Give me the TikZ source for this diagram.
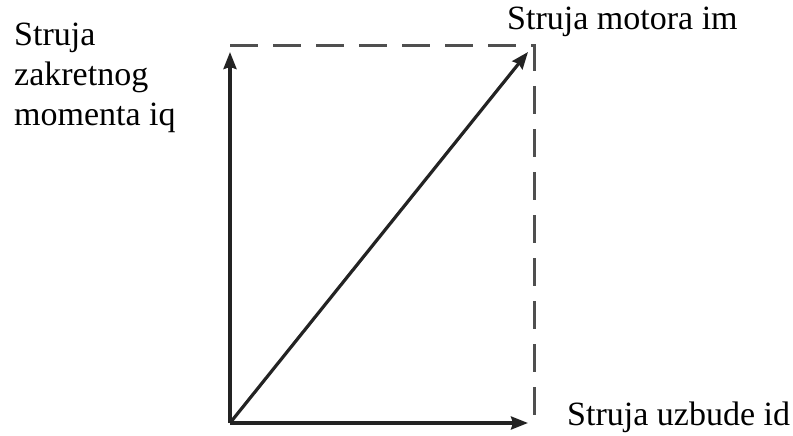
\documentclass[tikz,border=0pt]{standalone}
\usepackage{fontspec}
\setmainfont{Liberation Serif}
\usepackage{tikz}
\usetikzlibrary{arrows.meta,positioning}
\usepackage{xcolor}
\definecolor{inkgray}{RGB}{35,35,35}
\tikzset{
  vec/.style={-{Stealth[length=17pt,width=13pt,inset=2pt]}, line width=3.2pt, inkgray},
  helper/.style={line width=3pt, inkgray!80, dash pattern=on 28pt off 15pt},
  lbl/.style={font=\fontsize{34}{40}\selectfont, inner sep=0pt, anchor=base west, align=left},
}
\begin{document}
\begin{tikzpicture}[x=1pt,y=-1pt]
\useasboundingbox (0,0) rectangle (793,436);
% vector points
\coordinate (O) at (230,423);
\coordinate (Q) at (230,52);
\coordinate (D) at (528,423);
\coordinate (M) at (528,52);
\coordinate (TL) at (230,46);
\coordinate (TR) at (534,46);
\coordinate (BR) at (534,417);
% labels
\node[lbl] (iq) at (14,125) {Struja\\zakretnog\\momenta iq};
\node[lbl] (im) at (507,30) {Struja motora im};
\node[lbl] (id) at (567,425) {Struja uzbude id};
% projections
\draw[helper] (TL) -- (TR) -- (BR);
% currents
\draw[vec] (O) -- (Q);
\draw[vec] (O) -- (D);
\draw[vec] (O) -- (M);
\end{tikzpicture}
\end{document}
